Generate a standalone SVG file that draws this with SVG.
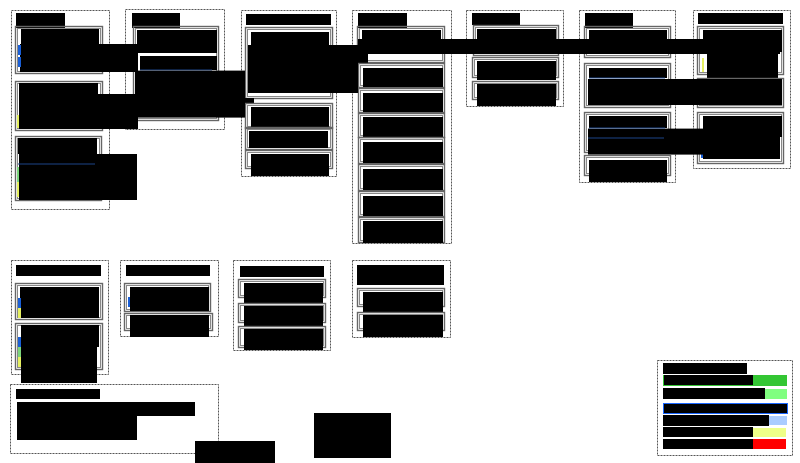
<svg xmlns="http://www.w3.org/2000/svg" width="800" height="463" viewBox="0 0 800 463">
<style>
.grp{fill:none;stroke:#555;stroke-width:1;stroke-dasharray:2 1}
.fo{fill:none;stroke:#666;stroke-width:1.4}
.fi{fill:none;stroke:#888;stroke-width:1}
.k{fill:#000}
.bl{fill:#1a5fd6}
.nv{stroke:#1d4488;stroke-width:1.2}
.ye{fill:#e6f060}
.gr{fill:#7cd67c}
</style>
<rect width="800" height="463" fill="#fff"/>
<g id="connectors"></g>

<g id="grpG">
<rect class="grp" x="693.5" y="10.5" width="97" height="158"/>
<rect class="k" x="698" y="13" width="85" height="11"/>
<g id="G1"><rect class="fo" x="697.5" y="26.5" width="86" height="48"/><rect class="fi" x="699.5" y="28.5" width="82" height="44"/><rect class="k" x="703" y="30" width="79" height="22"/><rect class="k" x="707" y="52" width="71" height="30"/><rect class="ye" x="702" y="58" width="2" height="14"/></g>
<g id="G2"><rect class="fo" x="697.5" y="78.5" width="86" height="29"/><rect class="fi" x="699.5" y="80.5" width="82" height="25"/></g>
<g id="G3"><rect class="fo" x="697.5" y="112.5" width="86" height="51"/><rect class="fi" x="699.5" y="114.5" width="82" height="47"/><rect class="k" x="703" y="116" width="79" height="21"/><rect class="k" x="703" y="137" width="77" height="22"/><rect class="bl" x="701" y="152" width="2" height="6"/></g>
</g>

<g id="grpF">
<rect class="grp" x="579.5" y="10.5" width="96" height="172"/>
<rect class="k" x="585" y="13" width="48" height="15"/>
<g id="F1"><rect class="fo" x="584.5" y="26.5" width="86" height="31"/><rect class="fi" x="586.5" y="28.5" width="82" height="27"/><rect class="k" x="589" y="30" width="78" height="12"/><line class="nv" x1="589" y1="42" x2="665" y2="42"/></g>
<g id="F2"><rect class="fo" x="584.5" y="63.5" width="86" height="44"/><rect class="fi" x="586.5" y="65.5" width="82" height="40"/><rect class="k" x="589" y="68" width="78" height="10"/><line class="nv" x1="589" y1="78" x2="665" y2="78"/><rect class="k" x="588" y="79" width="194" height="26"/></g>
<g id="F3"><rect class="fo" x="584.5" y="112.5" width="86" height="40"/><rect class="fi" x="586.5" y="114.5" width="82" height="36"/><rect class="k" x="589" y="116" width="78" height="12"/><rect class="k" x="588" y="128.6" width="192" height="26"/><line class="nv" x1="589" y1="128" x2="665" y2="128"/><line class="nv" x1="588" y1="138" x2="664" y2="138"/></g>
<g id="F4"><rect class="fo" x="584.5" y="155.5" width="86" height="20"/><rect class="fi" x="586.5" y="157.5" width="82" height="16"/><rect class="k" x="589" y="160" width="78" height="22"/></g>
</g>

<g id="grpE">
<rect class="grp" x="466.5" y="10.5" width="97" height="96"/>
<rect class="k" x="472" y="13" width="48" height="12"/>
<g id="E1"><rect class="fo" x="473.5" y="25.5" width="85" height="30"/><rect class="fi" x="475.5" y="27.5" width="81" height="26"/><rect class="k" x="477" y="29" width="79" height="10"/></g>
<g id="E2"><rect class="fo" x="472.5" y="57.5" width="86" height="20"/><rect class="fi" x="474.5" y="59.5" width="82" height="16"/><rect class="k" x="477" y="61" width="79" height="19"/></g>
<g id="E3"><rect class="fo" x="472.5" y="81.5" width="86" height="18"/><rect class="fi" x="474.5" y="83.5" width="82" height="14"/><rect class="k" x="477" y="84" width="79" height="22"/></g>
</g>

<g id="grpD">
<rect class="grp" x="352.5" y="10.5" width="99" height="233"/>
<rect class="k" x="358" y="13" width="49" height="15"/>
<g id="D1"><rect class="fo" x="357.5" y="26.5" width="87" height="36"/><rect class="fi" x="359.5" y="28.5" width="83" height="32"/><rect class="k" x="362" y="30" width="79" height="9"/><rect class="k" x="358" y="39" width="422" height="15"/><rect class="k" x="358" y="54" width="10" height="9"/></g>
<g id="D2"><rect class="fo" x="358.5" y="63.5" width="86" height="24"/><rect class="fi" x="360.5" y="65.5" width="82" height="20"/><rect class="k" x="363" y="68" width="80" height="19"/></g>
<g id="D3"><rect class="fo" x="358.5" y="88.5" width="86" height="24"/><rect class="fi" x="360.5" y="90.5" width="82" height="20"/><rect class="k" x="363" y="93" width="80" height="19"/></g>
<g id="D4"><rect class="fo" x="358.5" y="113.5" width="86" height="24"/><rect class="fi" x="360.5" y="115.5" width="82" height="20"/><rect class="k" x="363" y="117" width="80" height="20"/></g>
<g id="D5"><rect class="fo" x="358.5" y="137.5" width="86" height="26"/><rect class="fi" x="360.5" y="139.5" width="82" height="22"/><rect class="k" x="363" y="142" width="80" height="21"/></g>
<g id="D6"><rect class="fo" x="358.5" y="164.5" width="86" height="26"/><rect class="fi" x="360.5" y="166.5" width="82" height="22"/><rect class="k" x="363" y="169" width="80" height="21"/></g>
<g id="D7"><rect class="fo" x="358.5" y="191.5" width="86" height="25"/><rect class="fi" x="360.5" y="193.5" width="82" height="21"/><rect class="k" x="363" y="196" width="80" height="20"/></g>
<g id="D8"><rect class="fo" x="358.5" y="217.5" width="86" height="25"/><rect class="fi" x="360.5" y="219.5" width="82" height="21"/><rect class="k" x="363" y="221" width="80" height="22"/></g>
</g>

<g id="grpC">
<rect class="grp" x="241.5" y="10.5" width="95" height="166"/>
<rect class="k" x="246" y="14" width="85" height="11"/>
<g id="C1"><rect class="fo" x="245.5" y="27.5" width="87" height="71"/><rect class="fi" x="247.5" y="29.5" width="83" height="67"/><rect class="k" x="251" y="32" width="78" height="13"/><rect class="k" x="248" y="45" width="110" height="48"/><rect class="k" x="245" y="98" width="9" height="5"/></g>
<g id="C2"><rect class="fo" x="245.5" y="103.5" width="87" height="25"/><rect class="fi" x="247.5" y="105.5" width="83" height="21"/><rect class="k" x="251" y="107" width="78" height="20"/></g>
<g id="C3"><rect class="fo" x="245.5" y="127.5" width="87" height="22"/><rect class="fi" x="247.5" y="129.5" width="83" height="18"/><rect class="k" x="249" y="131" width="79" height="17"/></g>
<g id="C4"><rect class="fo" x="245.5" y="150.5" width="87" height="18"/><rect class="fi" x="247.5" y="152.5" width="83" height="14"/><rect class="k" x="251" y="154" width="78" height="22"/></g>
</g>

<g id="grpB">
<rect class="grp" x="125.5" y="9.5" width="99" height="120"/>
<rect class="k" x="132" y="13" width="48" height="15"/>
<g id="B1"><rect class="fo" x="133.5" y="26.5" width="85" height="94"/><rect class="fi" x="135.5" y="28.5" width="81" height="90"/><rect class="k" x="137" y="30" width="80" height="23"/><rect class="k" x="140" y="56" width="77" height="14"/><line class="nv" x1="140" y1="70" x2="212" y2="70"/><rect class="k" x="135" y="70.6" width="110" height="47"/></g>
</g>

<g id="grpA">
<rect class="grp" x="11.5" y="10.5" width="98" height="199"/>
<rect class="k" x="16" y="13" width="49" height="15"/>
<g id="A1"><rect class="fo" x="15.5" y="26.5" width="87" height="47"/><rect class="fi" x="17.5" y="28.5" width="83" height="43"/><rect class="k" x="21" y="29" width="78" height="16"/><rect class="k" x="20" y="44" width="118" height="28"/><rect class="bl" x="18" y="45" width="3" height="10"/><rect class="bl" x="18" y="57" width="3" height="10"/></g>
<g id="A2"><rect class="fo" x="15.5" y="81.5" width="87" height="49"/><rect class="fi" x="17.5" y="83.5" width="83" height="45"/><rect class="k" x="19" y="83" width="79" height="11"/><rect class="k" x="19" y="94" width="119" height="35"/><rect class="ye" x="17" y="115" width="2" height="13"/></g>
<g id="A3"><rect class="fo" x="15.5" y="136.5" width="86" height="64"/><rect class="fi" x="17.5" y="138.5" width="82" height="60"/><rect class="k" x="18" y="138" width="79" height="16"/><rect class="k" x="19" y="154" width="118" height="46"/><line class="nv" x1="18" y1="164" x2="95" y2="164"/><rect class="gr" x="17" y="167" width="2" height="15"/><rect class="ye" x="17" y="182" width="2" height="15"/></g>
</g>

<g id="grpH">
<rect class="grp" x="11.5" y="260.5" width="97" height="114"/>
<rect class="k" x="16" y="265" width="85" height="11"/>
<g id="H1"><rect class="fo" x="15.5" y="283.5" width="87" height="36"/><rect class="fi" x="17.5" y="285.5" width="83" height="32"/><rect class="k" x="20" y="287" width="79" height="31"/><rect class="bl" x="18" y="298" width="3" height="10"/><rect class="ye" x="18" y="308" width="3" height="10"/></g>
<g id="H2"><rect class="fo" x="15.5" y="323.5" width="87" height="46"/><rect class="fi" x="17.5" y="325.5" width="83" height="42"/><rect class="k" x="21" y="325" width="78" height="22"/><rect class="k" x="21" y="347" width="76" height="36"/><rect class="bl" x="18" y="337" width="3" height="10"/><rect class="gr" x="18" y="347" width="3" height="10"/><rect class="ye" x="18" y="357" width="3" height="10"/></g>
</g>

<g id="grpI">
<rect class="grp" x="120.5" y="260.5" width="98" height="76"/>
<rect class="k" x="126" y="265" width="84" height="11"/>
<g id="I1"><rect class="fo" x="124.5" y="283.5" width="86" height="28"/><rect class="fi" x="126.5" y="285.5" width="82" height="24"/><rect class="k" x="130" y="287" width="79" height="24"/><rect class="bl" x="128" y="297" width="2" height="10"/></g>
<g id="I2"><rect class="fo" x="124.5" y="313.5" width="88" height="17"/><rect class="fi" x="126.5" y="315.5" width="84" height="13"/><rect class="k" x="130" y="315" width="79" height="22"/></g>
</g>

<g id="grpK">
<rect class="grp" x="233.5" y="260.5" width="97" height="90"/>
<rect class="k" x="240" y="266" width="84" height="11"/>
<g id="K1"><rect class="fo" x="238.5" y="279.5" width="87" height="18"/><rect class="fi" x="240.5" y="281.5" width="83" height="14"/><rect class="k" x="244" y="283" width="79" height="20"/></g>
<g id="K2"><rect class="fo" x="238.5" y="303.5" width="87" height="19"/><rect class="fi" x="240.5" y="305.5" width="83" height="15"/><rect class="k" x="244" y="306" width="79" height="20"/></g>
<g id="K3"><rect class="fo" x="238.5" y="326.5" width="87" height="21"/><rect class="fi" x="240.5" y="328.5" width="83" height="17"/><rect class="k" x="244" y="329" width="79" height="21"/></g>
</g>

<g id="grpL">
<rect class="grp" x="352.5" y="260.5" width="98" height="77"/>
<rect class="k" x="357" y="265" width="87" height="20"/>
<g id="L1"><rect class="fo" x="357.5" y="288.5" width="87" height="18"/><rect class="fi" x="359.5" y="290.5" width="83" height="14"/><rect class="k" x="363" y="292" width="80" height="20"/></g>
<g id="L2"><rect class="fo" x="357.5" y="312.5" width="87" height="18"/><rect class="fi" x="359.5" y="314.5" width="83" height="14"/><rect class="k" x="363" y="315" width="80" height="22"/></g>
</g>

<g id="grpJ">
<rect class="grp" x="10.5" y="384.5" width="208" height="69"/>
<rect class="k" x="16" y="389" width="84" height="10"/>
<rect class="k" x="17" y="402" width="178" height="14"/>
<rect class="k" x="17" y="416" width="120" height="24"/>
</g>

<g id="box1"><rect class="k" x="195" y="441" width="80" height="22"/></g>
<g id="box2"><rect class="k" x="314" y="413" width="77" height="45"/></g>

<g id="legend">
<rect class="grp" x="657.5" y="360.5" width="135" height="95"/>
<rect class="k" x="663" y="363" width="84" height="11"/>
<rect x="663" y="375" width="124" height="11" fill="#33c633"/><rect class="k" x="664" y="375" width="89" height="10"/>
<rect x="663" y="389" width="124" height="10" fill="#80ff80"/><rect class="k" x="663" y="388" width="102" height="11"/>
<rect x="663.5" y="403.5" width="124" height="10" fill="#000" stroke="#1a66ff" stroke-width="1"/>
<rect x="663" y="416" width="124" height="9" fill="#aaccff"/><rect class="k" x="663" y="415" width="106" height="11"/>
<rect x="663" y="428" width="123" height="9" fill="#eeff88"/><rect class="k" x="663" y="427" width="90" height="10"/>
<rect x="663" y="439" width="123" height="10" fill="#ff0000"/><rect class="k" x="663" y="439" width="90" height="10"/>
</g>
</svg>
